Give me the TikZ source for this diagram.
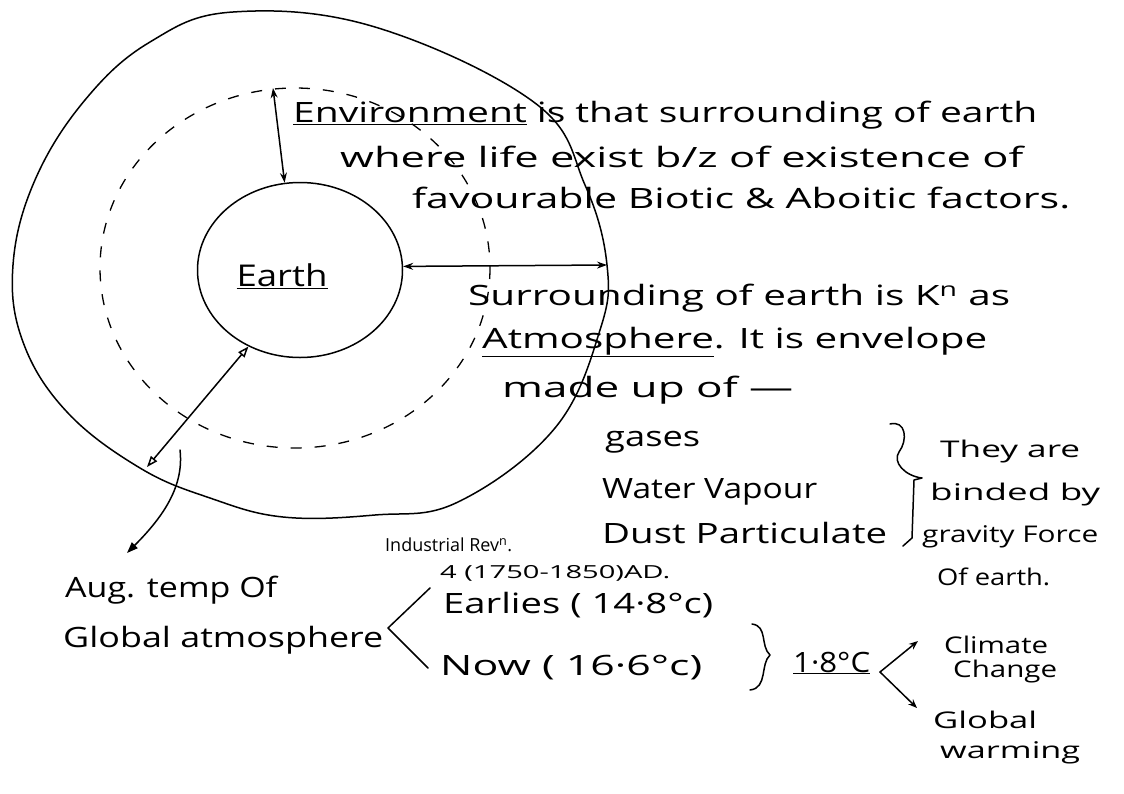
\documentclass[tikz,border=0pt]{standalone}
\usepackage{fontspec}
\setmainfont{Open Sans}
\usetikzlibrary{arrows.meta,shapes.geometric}
\newcommand{\hw}[2]{\resizebox{#1}{\height}{#2}}
\begin{document}
\begin{tikzpicture}[x=1pt,y=-1pt,
  txt/.style={anchor=west, inner sep=0pt, font=\fontsize{28}{32}\selectfont},
  mid/.style={anchor=west, inner sep=0pt, font=\fontsize{23}{26}\selectfont},
  small/.style={anchor=west, inner sep=0pt, font=\fontsize{18}{20}\selectfont},
  pen/.style={line width=1.5pt, line cap=round, line join=round},
  dbl/.style={pen, {Stealth[length=10pt,width=7pt]}-{Stealth[length=10pt,width=7pt]}},
  tri/.style={pen, {Triangle[open,length=11pt,width=8pt]}-{Triangle[open,length=11pt,width=8pt]}},
  onearrow/.style={pen, -{Stealth[length=9pt,width=7pt]}},
  earthshape/.style={ellipse, draw, line width=1.5pt, minimum width=205pt, minimum height=175pt, inner sep=0pt},
  dashring/.style={line width=1.3pt, dash pattern=on 11pt off 13pt}
]
\useasboundingbox (0,0) rectangle (1124,793);

% outer boundary
\draw[pen] plot[smooth cycle, tension=0.65] coordinates {
  (233,12) (375,27) (535,103) (585,185) (607,265) (600,330) (555,428)
  (458,502) (375,515) (283,517) (210,498) (140,468) (67,412) (23,342)
  (13,265) (35,180) (85,100) (150,42)};

% dashed ring
\draw[dashring] (295,268) ellipse [x radius=195, y radius=180];

% earth
\node[earthshape] (earth) at (300,270) {};
\node[anchor=center, inner sep=0pt, font=\fontsize{30}{34}\selectfont] (et) at (282,276) {\hw{91pt}{\underline{Earth}}};

% named coordinates
\coordinate (dtop) at (273,88);
\coordinate (oright) at (607,265);
\coordinate (obl) at (147,467);
\coordinate (cstart) at (180,450);
\coordinate (ctip) at (127,553);

% arrows in the diagram
\draw[dbl] (dtop) -- (earth.100);
\draw[dbl] (earth.2) -- (oright);
\draw[tri] (earth.236) -- (obl);
\draw[pen, -{Triangle[length=11pt,width=8pt]}] (cstart) .. controls (184,485) and (165,515) .. (ctip);

% text block right
\node[txt] (t1) at (293,115) {\hw{744pt}{\underline{Environment} is that surrounding of earth}};
\node[txt] (t2) at (340,157) {\hw{683pt}{where life exist b/z of existence of}};
\node[txt] (t3) at (412,198) {\hw{658pt}{favourable Biotic \& Aboitic factors.}};
\node[txt] (t4) at (468,298) {\hw{542pt}{Surrounding of earth is K\textsuperscript{n} as}};
\node[txt] (t5) at (482,342) {\hw{505pt}{\underline{Atmosphere}. It is envelope}};
\node[txt] (t6) at (502,390) {\hw{291pt}{made up of —}};
\node[txt] (g1) at (605,442) {\hw{95pt}{gases}};
\node[txt] (g2) at (602,492) {\hw{215pt}{Water Vapour}};
\node[txt] (g3) at (602,533) {\hw{285pt}{Dust Particulate}};
\node[mid] (b1) at (940,452) {\hw{140pt}{They are}};
\node[mid] (b2) at (930,495) {\hw{170pt}{binded by}};
\node[mid] (b3) at (922,537) {\hw{176pt}{gravity Force}};
\node[mid] (b4) at (937,577) {\hw{113pt}{Of earth.}};

% brace for gases
\coordinate (bt) at (890,424);
\coordinate (btip) at (922,478);
\coordinate (bb) at (903,546);
\draw[pen] (bt) .. controls (906,420) and (908,440) .. (899,452)
  .. controls (892,462) and (905,476) .. (btip)
  -- (914,480) -- (912,538) -- (bb);

% temperatures
\node[small] (ir) at (385,545) {\hw{127pt}{Industrial Rev\textsuperscript{n}.}};
\node[small] (ad) at (440,573) {\hw{230pt}{4 (1750-1850)AD.}};
\node[txt] (e1) at (443,605) {\hw{270pt}{Earlies ( 14·8°c)}};
\node[txt] (n1) at (440,668) {\hw{262pt}{Now ( 16·6°c)}};
\node[txt] (a1) at (65,590) {\hw{212pt}{Aug. temp Of}};
\node[txt] (a2) at (63,640) {\hw{320pt}{Global atmosphere}};

\coordinate (lt) at (430,588);
\coordinate (lv) at (388,628);
\coordinate (lb) at (428,668);
\draw[pen] (lt) -- (lv) -- (lb);

\coordinate (rt) at (752,624);
\coordinate (rb) at (750,690);
\draw[pen] (rt) .. controls (768,626) and (760,646) .. (770,655)
  .. controls (760,664) and (768,688) .. (rb);

\node[txt] (d1) at (793,663) {\hw{77pt}{\underline{1·8°C}}};
\coordinate (v2) at (880,672);
\coordinate (up) at (918,641);
\coordinate (dn) at (917,708);
\draw[onearrow] (v2) -- (up);
\draw[onearrow] (v2) -- (dn);

\node[mid] (c1) at (944,645) {\hw{104pt}{Climate}};
\node[mid] (c2) at (953,672) {\hw{104pt}{Change}};
\node[mid] (w1) at (933,720) {\hw{104pt}{Global}};
\node[mid] (w2) at (940,753) {\hw{140pt}{warming}};
\end{tikzpicture}
\end{document}
